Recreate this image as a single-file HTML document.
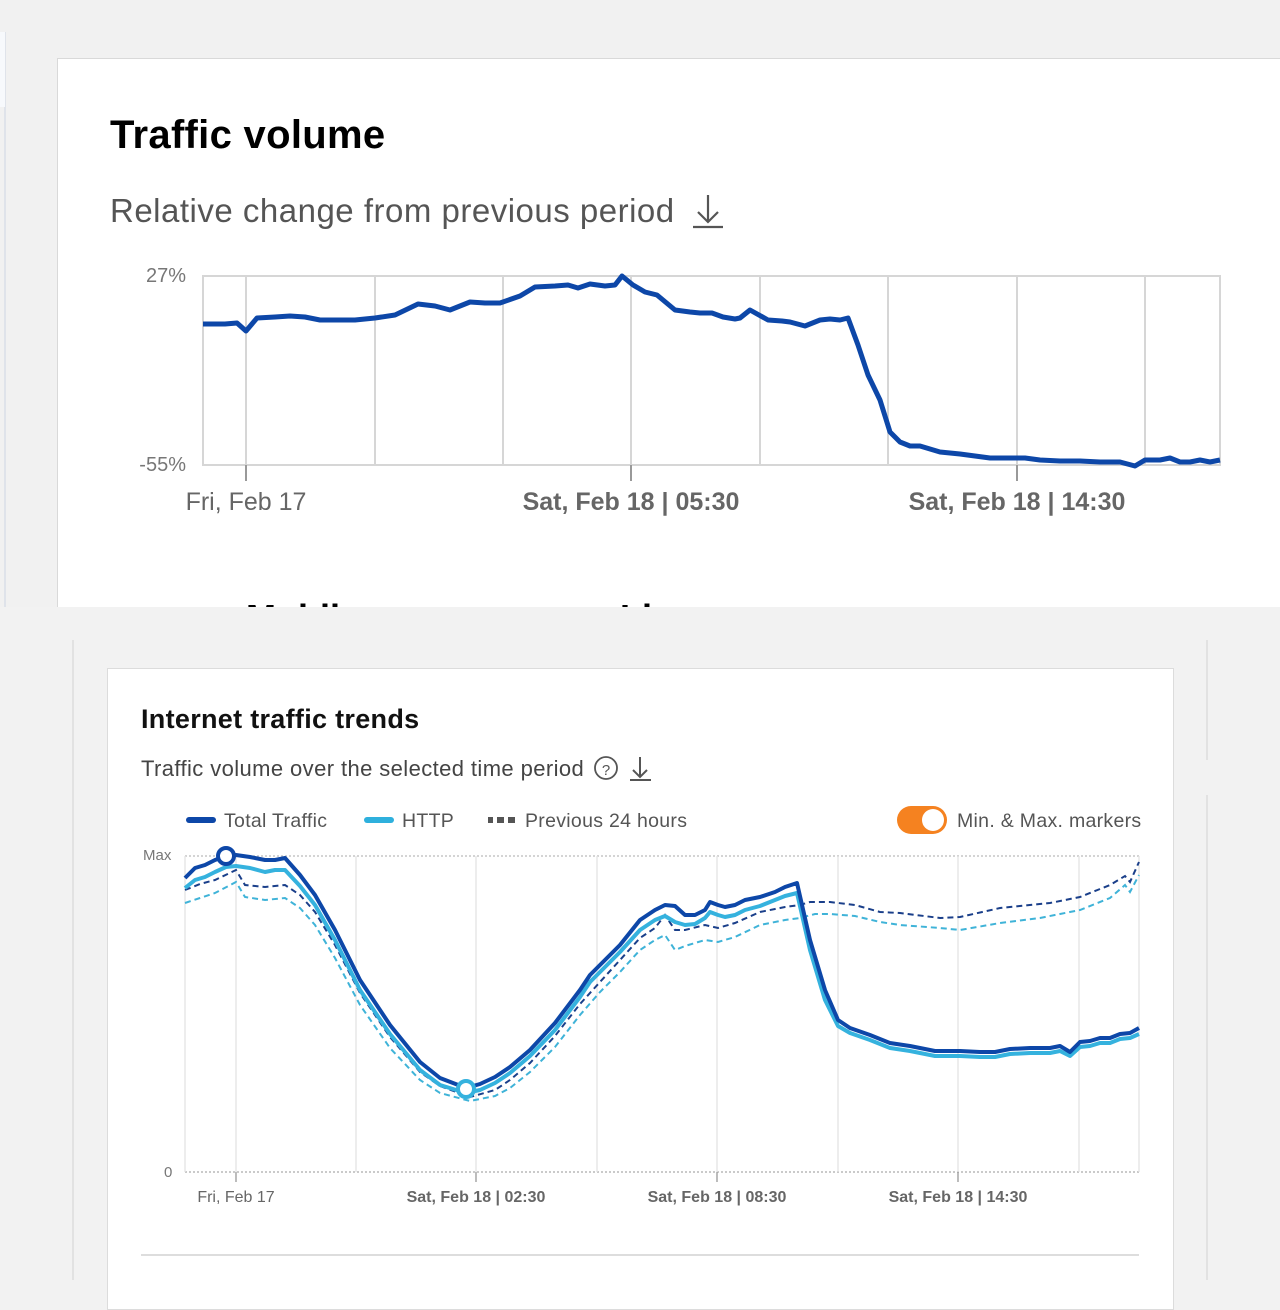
<!DOCTYPE html>
<html><head><meta charset="utf-8"><style>
html,body{margin:0;padding:0;width:1280px;height:1280px;overflow:hidden;background:#f2f2f2;font-family:"Liberation Sans",Arial,sans-serif}
.abs{position:absolute}
</style></head><body>
<div class="abs" style="left:0;top:0;width:1280px;height:607px;background:#f1f1f1;overflow:hidden">
  <div class="abs" style="left:4px;top:32px;width:2px;height:575px;background:#dfe3ea"></div>
  <div class="abs" style="left:0;top:32px;width:5px;height:75px;background:#f7f9fc"></div>
  <div class="abs" style="left:57px;top:58px;width:1230px;height:600px;background:#fff;border:1px solid #d9d9d9"></div>
  <div class="abs" style="left:110px;top:113px;font-size:40px;font-weight:bold;color:#000;letter-spacing:0.3px">Traffic volume</div>
  <div class="abs" style="left:110px;top:192px;font-size:33px;color:#555;letter-spacing:0.5px">Relative change from previous period</div>
  <svg class="abs" style="left:0;top:0" width="1280" height="607">
    <g stroke="#555" stroke-width="2.2" fill="none"><path d="M708 195v27M698 212l10 10 10-10M693 227h30"/></g>
    <rect x="203" y="276" width="1017" height="189" fill="none" stroke="#d6d6d6" stroke-width="2"/>
    <g stroke="#d6d6d6" stroke-width="2"><path d="M246 276V465M375 276V465M503 276V465M631 276V465M760 276V465M888 276V465M1017 276V465M1145 276V465"/></g>
    <g stroke="#999" stroke-width="2"><path d="M246 465v16M631 465v16M1017 465v16"/></g>
    <polyline fill="none" stroke="#0d47a8" stroke-width="5" stroke-linejoin="round" points="203,324 225,324 237,323 246,331 257,318 275,317 290,316 305,317 320,320 335,320 355,320 375,318 395,315 418,304 435,306 450,310 470,302 485,303 500,303 520,296 535,287 555,286 568,285 578,288 590,284 605,286 615,285 622,276 633,285 645,292 657,295 675,310 690,312 700,313 712,313 723,317 735,319 740,318 750,310 768,320 782,321 790,322 805,326 820,320 830,319 840,320 848,318 858,345 868,375 880,400 890,432 900,442 910,446 920,446 940,452 960,454 975,456 990,458 1010,458 1025,458 1040,460 1060,461 1080,461 1100,462 1120,462 1135,466 1145,460 1160,460 1170,458 1180,462 1190,462 1200,460 1210,462 1220,460"/>
    <g font-size="20" fill="#777" text-anchor="end"><text x="186" y="282">27%</text><text x="186" y="471">-55%</text></g>
    <g font-size="25" fill="#666" text-anchor="middle"><text x="246" y="510">Fri, Feb 17</text><text x="631" y="510" font-weight="bold">Sat, Feb 18 | 05:30</text><text x="1017" y="510" font-weight="bold">Sat, Feb 18 | 14:30</text></g>
    <text x="246" y="630" font-size="36" font-weight="bold" fill="#000">Mobile</text><text x="620" y="630" font-size="36" font-weight="bold" fill="#000">Li</text>
  </svg>
</div>
<div class="abs" style="left:72px;top:640px;width:2px;height:640px;background:#e2e2e2"></div>
<div class="abs" style="left:1206px;top:640px;width:2px;height:120px;background:#e2e2e2"></div>
<div class="abs" style="left:1206px;top:795px;width:2px;height:485px;background:#e2e2e2"></div>
<div class="abs" style="left:107px;top:668px;width:1065px;height:640px;background:#fff;border:1px solid #dcdcdc"></div>
<div class="abs" style="left:141px;top:704px;font-size:27px;font-weight:bold;color:#111;letter-spacing:0.3px">Internet traffic trends</div>
<div class="abs" style="left:141px;top:756px;font-size:22px;color:#444;letter-spacing:0.4px">Traffic volume over the selected time period</div>
<svg class="abs" style="left:0;top:0" width="1280" height="1280">
  <circle cx="606" cy="768" r="11" fill="none" stroke="#555" stroke-width="1.8"/>
  <text x="606" y="775" font-size="15" fill="#555" text-anchor="middle">?</text>
  <g stroke="#555" stroke-width="2" fill="none"><path d="M640 757v20M633 770l7 7 7-7M630 780h21"/></g>
  <line x1="189" y1="820" x2="213" y2="820" stroke="#0d47a8" stroke-width="6" stroke-linecap="round"/>
  <line x1="367" y1="820" x2="391" y2="820" stroke="#2eb0dd" stroke-width="6" stroke-linecap="round"/>
  <g stroke="#555" stroke-width="6"><path d="M488 820h5M497 820h7M508 820h7"/></g>
  <g font-size="19.5" fill="#555" letter-spacing="0.3"><text x="224" y="827">Total Traffic</text><text x="402" y="827">HTTP</text><text x="525" y="827">Previous 24 hours</text><text x="957" y="827">Min. &amp; Max. markers</text></g>
  <rect x="897" y="806" width="50" height="28" rx="14" fill="#f58220"/>
  <circle cx="933" cy="820" r="11" fill="#fff"/>
  <line x1="185" y1="856" x2="1139" y2="856" stroke="#bbb" stroke-width="1.2" stroke-dasharray="2 2"/>
  <line x1="185" y1="1172" x2="1139" y2="1172" stroke="#aaa" stroke-width="1.2" stroke-dasharray="2 2"/>
  <g stroke="#e3e3e3" stroke-width="1.3"><path d="M185 856V1172M236 856V1172M356 856V1172M476 856V1172M597 856V1172M717 856V1172M838 856V1172M958 856V1172M1079 856V1172M1139 856V1172"/></g>
  <g stroke="#999" stroke-width="1.3"><path d="M236 1172v10M476 1172v10M717 1172v10M958 1172v10"/></g>
  <g font-size="15" fill="#777"><text x="143" y="860">Max</text><text x="164" y="1177">0</text></g>
  <g font-size="16" fill="#666" text-anchor="middle"><text x="236" y="1202">Fri, Feb 17</text><text x="476" y="1202" font-weight="bold">Sat, Feb 18 | 02:30</text><text x="717" y="1202" font-weight="bold">Sat, Feb 18 | 08:30</text><text x="958" y="1202" font-weight="bold">Sat, Feb 18 | 14:30</text></g>
  <line x1="141" y1="1255" x2="1139" y2="1255" stroke="#ddd" stroke-width="2"/>
  <polyline fill="none" stroke="#3fb3d8" stroke-width="2" stroke-dasharray="6 4" points="185,903 200,898 215,893 236,882 245,897 265,900 285,898 300,908 315,925 335,958 360,1005 390,1048 420,1080 440,1093 470,1101 495,1096 510,1088 530,1072 555,1047 580,1015 600,992 620,972 640,950 655,940 665,935 675,950 685,946 705,940 718,942 735,937 760,925 785,920 800,918 815,914 830,914 855,916 880,922 900,925 940,928 960,930 1000,923 1040,918 1080,910 1110,898 1125,885 1130,892 1139,875"/>
  <polyline fill="none" stroke="#1a3f8a" stroke-width="2" stroke-dasharray="6 4" points="185,890 200,884 215,880 236,870 245,885 265,887 285,885 300,895 315,912 335,945 360,993 390,1037 420,1072 440,1086 470,1097 495,1090 510,1080 530,1063 555,1036 580,1004 600,982 620,960 640,938 655,928 665,915 675,930 685,930 705,925 718,928 735,923 760,912 785,907 800,905 810,902 830,902 855,905 880,912 900,913 940,918 960,917 1000,908 1050,903 1080,897 1110,885 1125,876 1130,882 1139,862"/>
  <polyline fill="none" stroke="#35b2de" stroke-width="4" stroke-linejoin="round" points="185,888 195,880 205,877 215,872 226,867 236,866 250,868 265,872 275,870 285,870 300,886 315,905 335,940 360,990 390,1034 420,1070 440,1085 466,1093 480,1090 495,1083 510,1073 530,1056 555,1030 580,997 590,982 600,972 620,952 640,930 655,920 665,916 675,922 685,925 695,924 705,918 710,912 718,915 725,917 735,915 745,910 760,906 775,900 785,896 797,893 810,950 825,1000 838,1026 850,1033 870,1040 890,1048 910,1051 935,1056 960,1056 980,1057 995,1057 1010,1054 1030,1053 1050,1053 1060,1051 1070,1056 1080,1047 1090,1046 1100,1043 1110,1043 1120,1039 1130,1038 1139,1034"/>
  <polyline fill="none" stroke="#0d47a8" stroke-width="4" stroke-linejoin="round" points="185,878 195,868 205,865 215,860 226,856 236,855 250,857 265,860 275,860 285,858 300,875 315,895 335,930 360,980 390,1025 420,1062 440,1078 466,1088 480,1084 495,1077 510,1067 530,1050 555,1023 580,990 590,975 600,965 620,945 640,920 655,910 665,905 675,906 685,915 695,915 705,910 710,902 718,905 725,907 735,905 745,900 760,897 775,892 785,887 797,883 810,940 825,990 838,1020 850,1028 870,1035 890,1043 910,1046 935,1051 960,1051 980,1052 995,1052 1010,1049 1030,1048 1050,1048 1060,1046 1070,1052 1080,1042 1090,1041 1100,1038 1110,1038 1120,1034 1130,1033 1139,1028"/>
  <circle cx="226" cy="856" r="8" fill="#fff" stroke="#0d47a8" stroke-width="4"/>
  <circle cx="466" cy="1089" r="8" fill="#fff" stroke="#35b2de" stroke-width="4"/>
</svg>
</body></html>
